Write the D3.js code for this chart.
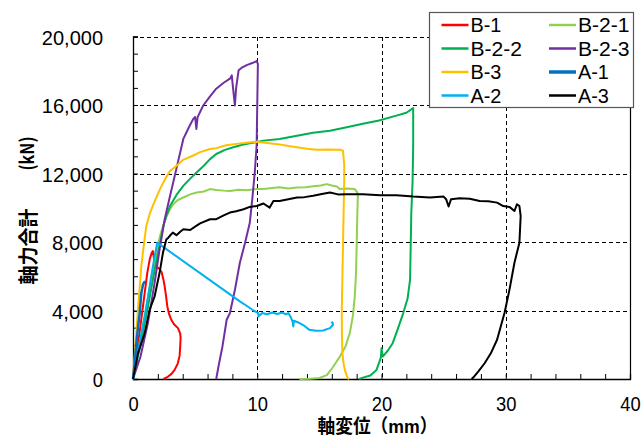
<!DOCTYPE html>
<html><head><meta charset="utf-8">
<script src="https://cdn.jsdelivr.net/npm/d3@7"></script>
<style>html,body{margin:0;padding:0;background:#fff;} svg{display:block}</style>
</head><body>
<svg id="chart" width="643" height="437"></svg>
<script>
// ---------- data (displacement mm, axial force kN) ----------
const seriesNames = ["B-1","B-2-1","B-2-2","B-2-3","B-3","A-1","A-2","A-3"];

const B1 = [[0,0],[0.3,1500],[0.6,3100],[0.9,4800],[1.15,6200],[1.35,7000],[1.5,7350],[1.6,7470],[1.7,7000],[1.8,6700],[1.9,6550],[2.1,6450],[2.3,6250],[2.45,5800],[2.55,5400],[2.65,4900],[2.76,4250],[2.9,3800],[3.08,3460],[3.3,3200],[3.62,2970],[3.8,2650],[3.83,2400],[3.8,1900],[3.75,1350],[3.6,900],[3.35,530],[3.1,300],[2.8,130],[2.45,0]];

const B21 = [[0,0],[0.5,1900],[1.0,3900],[1.5,5900],[1.9,7400],[2.17,8350],[2.45,9000],[2.71,9520],[3.0,9950],[3.24,10200],[3.6,10450],[4.05,10600],[4.6,10780],[5.12,10890],[5.7,10950],[6.2,11090],[6.7,11040],[7.3,11000],[7.8,10980],[8.5,11050],[9.2,11020],[10.0,11100],[10.5,11090],[11.2,11150],[11.8,11200],[12.5,11130],[13.2,11180],[13.9,11200],[14.5,11250],[15.1,11300],[15.6,11380],[16.0,11300],[16.4,11240],[16.65,11090],[17.2,11120],[17.85,11090],[18.05,10900],[18.1,10790],[18.05,9500],[18.0,7760],[17.95,6200],[17.85,4830],[17.7,3700],[17.45,2680],[17.1,1900],[16.65,1310],[16.1,700],[15.6,230],[15.0,60],[14.2,10],[13.4,0]];

const B22 = [[0,0],[0.6,2000],[1.2,4200],[1.8,6600],[2.17,7900],[2.44,8930],[2.7,9550],[2.98,10100],[3.5,10750],[4.05,11280],[4.6,11700],[5.12,12060],[5.7,12450],[6.2,12840],[6.7,13140],[7.4,13380],[8.07,13530],[8.8,13680],[9.4,13760],[10.5,13920],[11.8,14020],[13.2,14210],[14.5,14380],[15.85,14500],[17.2,14700],[18.5,14900],[19.8,15100],[21.2,15380],[22.0,15550],[22.55,15820],[22.55,13630],[22.5,11500],[22.4,9720],[22.35,7800],[22.3,5800],[22.1,4700],[21.75,3850],[21.3,2900],[20.9,2090],[20.5,1650],[20.1,1310],[20.0,1800],[19.95,1250],[19.6,530],[19.1,200],[18.5,80],[18.2,0]];

const B23 = [[0,0],[0.6,1300],[1.2,3270],[1.74,5610],[2.14,7570],[2.55,9330],[2.98,10690],[3.5,12300],[4.05,14020],[4.5,14700],[4.85,15190],[5.0,15300],[5.1,14600],[5.2,15290],[5.65,15970],[6.2,16500],[6.7,16950],[7.3,17300],[7.8,17540],[7.95,17730],[8.05,17000],[8.2,15970],[8.3,17000],[8.5,18030],[8.8,18200],[9.15,18330],[9.6,18450],[9.95,18560],[10.05,18400],[10.0,15970],[9.95,13630],[9.8,12060],[9.6,10500],[9.4,9130],[9.0,7900],[8.6,6790],[8.2,5200],[7.8,3850],[7.54,3460],[7.2,1900],[6.9,800],[6.73,130],[6.7,0]];

const B3 = [[0,0],[0.13,1310],[0.4,4050],[0.67,6590],[0.9,8000],[1.07,8930],[1.37,9700],[1.7,10300],[2.17,11090],[2.6,11700],[2.98,12150],[3.5,12450],[4.05,12800],[4.85,13050],[5.4,13250],[6.2,13430],[6.7,13480],[7.5,13650],[8.3,13730],[9.1,13800],[9.95,13850],[10.8,13780],[11.8,13700],[12.5,13600],[13.2,13530],[14.0,13450],[14.8,13390],[15.7,13400],[16.65,13390],[16.9,13330],[17.0,12500],[17.0,11670],[16.95,9700],[16.9,7760],[16.85,5800],[16.8,3850],[16.82,2500],[16.85,1510],[16.95,900],[17.05,530],[17.2,200],[17.3,40],[17.4,0]];

const A1 = [[0,0],[0.1,700],[0.27,2090],[0.4,3000],[0.54,3850],[0.6,4400],[0.67,5020],[0.75,5300],[0.8,5510],[0.9,5650],[0.99,5700]];

const A2 = [[0,0],[0.3,1200],[0.6,2400],[0.94,3650],[1.2,4800],[1.47,6000],[1.7,7000],[1.95,7960],[8.6,4530],[9.2,4250],[9.7,4000],[10.08,3850],[10.1,3650],[10.4,3850],[10.8,3780],[11.2,3880],[11.6,3800],[12.0,3880],[12.3,3780],[12.5,3850],[12.7,3600],[12.85,3350],[12.9,3070],[12.95,3400],[13.3,3300],[13.8,3100],[14.2,2870],[14.7,2820],[15.3,2830],[15.85,2970],[16.1,3170],[16.05,3320],[15.95,3250]];

const A3 = [[0,0],[0.4,1500],[0.94,2680],[1.34,4050],[1.74,4830],[2.14,6200],[2.41,7370],[2.68,8150],[2.84,8250],[2.95,8350],[3.2,8550],[3.5,8400],[3.8,8600],[4.05,8740],[4.6,8700],[5.0,8900],[5.4,9090],[6.2,9330],[6.7,9330],[7.3,9550],[7.8,9720],[8.3,9800],[8.9,9910],[9.4,10050],[9.95,10100],[10.5,10250],[11.0,10010],[11.3,10400],[11.8,10400],[12.5,10500],[13.2,10600],[13.8,10620],[14.5,10700],[15.2,10800],[15.85,10890],[16.5,10780],[17.2,10790],[18.5,10790],[19.9,10730],[21.2,10730],[22.55,10650],[23.9,10600],[25.0,10650],[25.2,10500],[25.4,10070],[25.6,10500],[26.3,10550],[27.1,10530],[27.9,10400],[28.6,10380],[29.3,10300],[29.8,10100],[30.3,10050],[30.7,9810],[30.9,10200],[31.1,10100],[31.2,9520],[31.1,7960],[30.7,6790],[30.3,5220],[29.9,3850],[29.3,2290],[28.8,1500],[28.3,920],[27.8,450],[27.4,100],[27.25,0]];

const seriesData = [B1, B21, B22, B23, B3, A1, A2, A3];

const xTickValues = [0,10,20,30,40];
const xTickLabels = ["0","10","20","30","40"];
const yTickValues = [0,4000,8000,12000,16000,20000];
const yTickLabels = ["0","4,000","8,000","12,000","16,000","20,000"];
const xTitle = "軸変位（mm）";
const yTitleMain = "軸力合計";
const yTitleUnit = "(kN)";

// ---------- styles ----------
const colors = ["#FF0000","#92D050","#00B050","#7030A0","#FFC000","#0070C0","#00B0F0","#000000"];
const FONT = "'Noto Sans CJK JP','Noto Sans',sans-serif";
const LATIN = "'Liberation Sans','Noto Sans',sans-serif";
const TITLEFONT = "'Liberation Sans','Noto Sans CJK JP',sans-serif";

const svg = d3.select("#chart");
const L = 133, R = 630, T = 36.5, B = 379;
const x = d3.scaleLinear().domain([0,40]).range([L,R]);
const y = d3.scaleLinear().domain([0,20000]).range([B,T]);

// gridlines
const grid = svg.append("g").attr("stroke","#000").attr("stroke-width",1).attr("stroke-dasharray","4,3").attr("shape-rendering","crispEdges");
grid.selectAll("line.h").data(yTickValues.slice(1)).join("line")
  .attr("x1",L).attr("x2",R).attr("y1",d=>Math.round(y(d))+0.5).attr("y2",d=>Math.round(y(d))+0.5);
grid.selectAll("line.v").data(xTickValues.slice(1,-1)).join("line")
  .attr("y1",T).attr("y2",B).attr("x1",d=>Math.round(x(d))+0.5).attr("x2",d=>Math.round(x(d))+0.5);

// right border
svg.append("line").attr("x1",Math.round(x(40))+0.5).attr("x2",Math.round(x(40))+0.5)
  .attr("y1",T).attr("y2",B).attr("stroke","#000").attr("stroke-width",1.2);

// axes
const yMinor = d3.axisLeft(y).tickValues(d3.range(0,20001,1000)).tickSize(-5).tickFormat("");
const gY = svg.append("g").attr("transform",`translate(${L},0)`).call(yMinor);
gY.select(".domain").attr("stroke-width",1.3);
const xMinor = d3.axisBottom(x).tickValues(d3.range(0,41,2)).tickSize(-5).tickFormat("");
const gX = svg.append("g").attr("transform",`translate(0,${B})`).call(xMinor);
gX.select(".domain").attr("stroke-width",1.3);
svg.selectAll(".tick line").attr("stroke","#000");

const yLab = d3.axisLeft(y).tickValues(yTickValues).tickSize(0).tickPadding(30)
  .tickFormat((d,i)=>yTickLabels[i]);
const gYL = svg.append("g").attr("transform",`translate(${L},0)`).call(yLab);
gYL.select(".domain").remove();
gYL.selectAll("text").attr("font-family",LATIN).attr("font-size",21).attr("fill","#000")
  .attr("dy","0.36em").attr("text-anchor","end")
  .attr("textLength",function(){return this.textContent.length*10.2;})
  .attr("lengthAdjust","spacingAndGlyphs");

const xLab = d3.axisBottom(x).tickValues(xTickValues).tickSize(0).tickPadding(0)
  .tickFormat((d,i)=>xTickLabels[i]);
const gXL = svg.append("g").attr("transform",`translate(0,${B})`).call(xLab);
gXL.select(".domain").remove();
gXL.selectAll("text").attr("font-family",LATIN).attr("font-size",21).attr("fill","#000")
  .attr("y",24).attr("dy","0.36em")
  .attr("textLength",function(){return this.textContent.length*10.2;})
  .attr("lengthAdjust","spacingAndGlyphs");

// titles
svg.append("text").attr("x",377.5).attr("y",432.5).attr("text-anchor","middle")
  .attr("font-family",TITLEFONT).attr("font-size",19).attr("font-weight","bold")
  .attr("textLength",120).attr("lengthAdjust","spacingAndGlyphs").text(xTitle);
svg.append("text").attr("transform","translate(35.5,246.5) rotate(-90)").attr("text-anchor","middle")
  .attr("font-family",FONT).attr("font-size",20).attr("font-weight","bold")
  .attr("textLength",76).attr("lengthAdjust","spacingAndGlyphs").text(yTitleMain);
svg.append("text").attr("transform","translate(34,153.5) rotate(-90)").attr("text-anchor","middle")
  .attr("font-family",FONT).attr("font-size",19).attr("font-weight","bold")
  .attr("textLength",34).attr("lengthAdjust","spacingAndGlyphs").text(yTitleUnit);

// series
const line = d3.line().x(d=>x(d[0])).y(d=>y(d[1]));
svg.append("g").selectAll("path").data(seriesData).join("path")
  .attr("d",line).attr("fill","none")
  .attr("stroke",(d,i)=>colors[i])
  .attr("stroke-width",(d,i)=>i===5?2.5:2)
  .attr("stroke-linejoin","round");

// legend
const lg = svg.append("g");
lg.append("rect").attr("x",429.5).attr("y",12.5).attr("width",204).attr("height",95)
  .attr("fill","#fff").attr("stroke","#555").attr("stroke-width",1.2);
const colX = [441.5,549], rowY = [25,48.5,72,95.5];
const items = lg.selectAll("g.item").data(seriesNames).join("g")
  .attr("transform",(d,i)=>`translate(${colX[i%2]},${rowY[Math.floor(i/2)]})`);
items.append("line").attr("x1",0).attr("x2",27).attr("y1",0).attr("y2",0)
  .attr("stroke",(d,i)=>colors[i]).attr("stroke-width",(d,i)=>i===5?3.5:2.5);
items.append("text").attr("x",29).attr("dy","0.36em")
  .attr("font-family",LATIN).attr("font-size",20).attr("fill","#000")
  .attr("textLength",d=>d.length*10.3).attr("lengthAdjust","spacingAndGlyphs")
  .text(d=>d);
</script>
</body></html>
